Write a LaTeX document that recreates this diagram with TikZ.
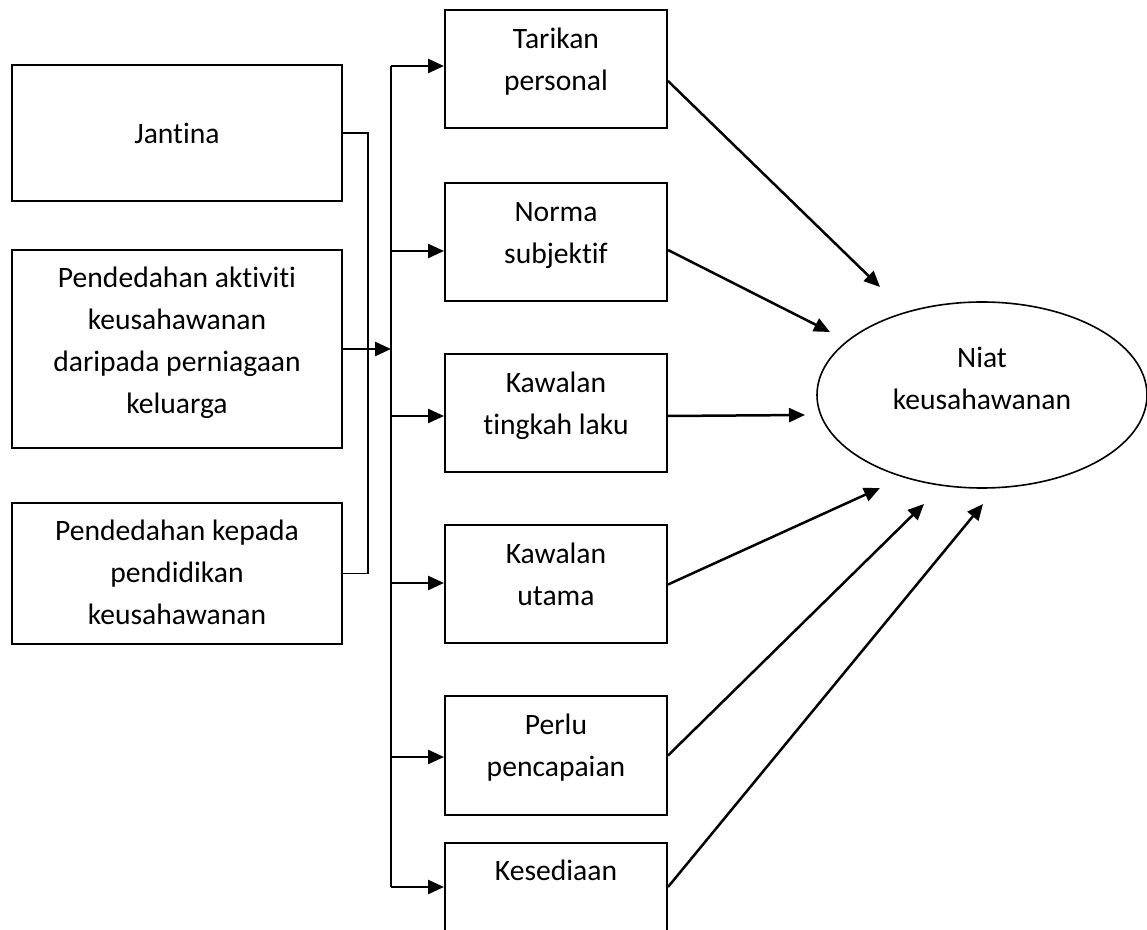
\documentclass[tikz,border=0pt]{standalone}
\usepackage{fontspec}
\setmainfont{Carlito}[Ligatures=NoCommon]
\usetikzlibrary{positioning,shapes.geometric,arrows.meta}

\newcommand{\boxtxt}[3]{\parbox[c][#1][t]{#2}{\centering\rule{0pt}{19pt}#3}}

\begin{document}
\begin{tikzpicture}[x=0.5pt,y=-0.5pt,node distance=85.5pt,on grid,
  font=\fontsize{14.8pt}{21pt}\selectfont,
  box/.style={draw,line width=1pt,inner sep=0pt},
  arr/.style={-{Triangle[length=8pt,width=7pt]},line width=1.25pt},
  link/.style={line width=0.8pt}]

\useasboundingbox (0,0) rectangle (1147,930);

   \node[box,minimum width=165pt,minimum height=68pt] (l_1) at (177,133) {Jantina};
   \node[box] (l_2) [below=108pt of l_1] {\boxtxt{99pt}{165pt}{Pendedahan aktiviti\\keusahawanan\\daripada perniagaan\\keluarga}};
   \node[box] (l_3) [below=112.25pt of l_2] {\boxtxt{70.5pt}{165pt}{Pendedahan kepada\\pendidikan\\keusahawanan}};

   \node[box] (m_1) at (556,69.5) {\boxtxt{59pt}{111pt}{Tarikan\\personal}};
   \node[box] (m_2) [below=86.5pt of m_1] {\boxtxt{59pt}{111pt}{Norma\\subjektif}};
   \node[box] (m_3) [below=of m_2] {\boxtxt{59pt}{111pt}{Kawalan\\tingkah laku}};
   \node[box] (m_4) [below=of m_3] {\boxtxt{59pt}{111pt}{Kawalan\\utama}};
   \node[box] (m_5) [below=of m_4] {\boxtxt{59pt}{111pt}{Perlu\\pencapaian}};
   \node[box] (m_6) [below=73pt of m_5] {\boxtxt{59pt}{111pt}{Kesediaan}};

   \node[ellipse,draw,line width=0.8pt,minimum width=165pt,minimum height=93pt,inner sep=0pt] (n) at (982,395)
     {\parbox{95pt}{\centering Niat\\keusahawanan\par\vspace*{17pt}}};

   \coordinate (s_1) at (391,66);
   \coordinate (s_2) at (391,251);
   \coordinate (s_3) at (391,416);
   \coordinate (s_4) at (391,583);
   \coordinate (s_5) at (391,757);
   \coordinate (s_6) at (391,887);

   \coordinate (t_1) at (880,287);
   \coordinate (t_2) at (830,332);
   \coordinate (t_3) at (805,415);
   \coordinate (t_4) at (880,488);
   \coordinate (t_5) at (924,504);
   \coordinate (t_6) at (983,504);

   \draw[link] (l_1.east) -- ++(25,0) |- (l_3.east);
   \draw[arr] (l_2.east) -- (l_2.east -| s_1);
   \draw[link] (s_1) -- (s_6);
   \foreach \i in {1,...,6}
     \draw[arr] (s_\i) -- (s_\i -| m_\i.west);

    \path[arr]
    ([yshift=-5.75pt]m_1.east) edge (t_1)
    ([yshift=-3.75pt]m_2.east) edge (t_2)
    ([yshift=-1.25pt]m_3.east) edge (t_3)
    (m_4.east) edge (t_4)
    (m_5.east) edge (t_5)
    ([yshift=7.25pt]m_6.east) edge (t_6);

\end{tikzpicture}
\end{document}
